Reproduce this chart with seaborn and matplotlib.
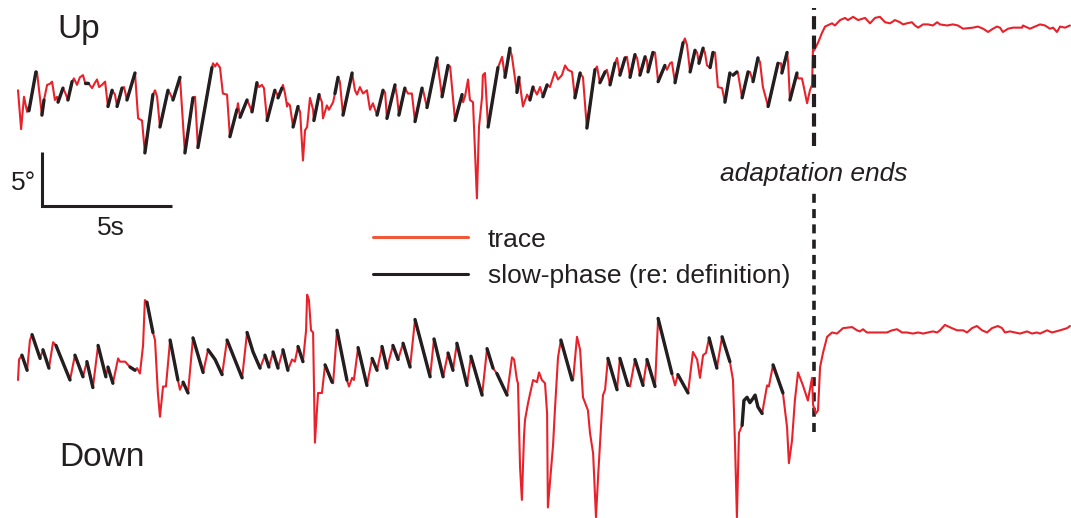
import numpy as np
import pandas as pd
import matplotlib
matplotlib.use("Agg")
import matplotlib.pyplot as plt
import seaborn as sns

# --- data: eye position traces (deg) vs time (s) ---
up_t = [0.00, 0.12, 0.23, 0.35, 0.38, 0.42, 0.69, 0.73, 0.92, 1.00,
        1.12, 1.23, 1.31, 1.42, 1.50, 1.54, 1.73, 1.81, 1.92, 2.08,
        2.15, 2.27, 2.38, 2.50, 2.58, 2.69, 2.85, 2.96, 3.04, 3.12,
        3.23, 3.35, 3.46, 3.62, 3.73, 3.81, 4.00, 4.08, 4.19, 4.50,
        4.62, 4.77, 4.88, 5.19, 5.27, 5.35, 5.46, 5.77, 5.85, 5.96,
        6.23, 6.42, 6.73, 6.81, 6.92, 7.46, 7.50, 7.58, 7.65, 7.77,
        7.88, 8.04, 8.15, 8.42, 8.46, 8.54, 8.81, 8.85, 9.00, 9.19,
        9.27, 9.38, 9.46, 9.58, 9.88, 9.96, 10.00, 10.15, 10.19, 10.27,
        10.35, 10.38, 10.46, 10.58, 10.77, 10.85, 10.96, 11.04, 11.12, 11.23,
        11.35, 11.38, 11.58, 11.69, 11.73, 11.88, 11.96, 12.12, 12.19, 12.31,
        12.38, 12.50, 12.85, 12.96, 13.04, 13.15, 13.27, 13.42, 13.54, 13.65,
        13.81, 14.04, 14.12, 14.19, 14.50, 14.58, 14.65, 14.88, 15.00, 15.15,
        15.27, 15.54, 15.58, 15.73, 16.12, 16.15, 16.31, 16.54, 16.62, 16.81,
        17.08, 17.12, 17.19, 17.31, 17.38, 17.50, 17.65, 17.73, 17.85, 17.88,
        17.96, 18.08, 18.46, 18.62, 18.73, 18.92, 19.00, 19.19, 19.27, 19.42,
        19.58, 19.69, 19.81, 19.96, 20.08, 20.19, 20.35, 20.46, 20.65, 20.77,
        20.92, 21.04, 21.15, 21.31, 21.42, 21.62, 21.73, 21.88, 22.19, 22.27,
        22.38, 22.58, 22.65, 22.77, 22.96, 23.04, 23.15, 23.35, 23.42, 23.54,
        23.73, 23.81, 23.92, 24.12, 24.19, 24.23, 24.42, 24.50, 24.62, 24.88,
        24.96, 25.08, 25.15, 25.27, 25.58, 25.65, 25.73, 25.85, 26.04, 26.12,
        26.19, 26.35, 26.42, 26.50, 26.62, 26.73, 26.81, 26.92, 27.08, 27.19,
        27.38, 27.50, 27.65, 27.69, 27.85, 28.08, 28.15, 28.27, 28.46, 28.54,
        28.65, 28.85, 29.23, 29.35, 29.38, 29.58, 29.62, 29.69, 29.96, 30.00,
        30.15, 30.19, 30.35, 30.46, 30.54, 30.58, 30.62, 30.77, 30.92, 31.04,
        31.31, 31.42, 31.62, 31.81, 31.92, 32.12, 32.31, 32.58, 32.77, 32.96,
        33.15, 33.35, 33.54, 33.73, 33.92, 34.04, 34.19, 34.38, 34.50, 34.62,
        34.81, 35.00, 35.19, 35.35, 35.46, 35.73, 35.96, 36.15, 36.35, 36.73,
        36.92, 37.12, 37.31, 37.50, 37.65, 37.77, 37.88, 38.08, 38.27, 38.62,
        38.65, 38.92, 39.12, 39.31, 39.50, 39.69, 39.81, 39.96, 40.08, 40.27,
        40.46]
up_deg = [0.9, -2.7, 0.3, -1.1, -0.7, -1.0, 2.6, 2.6, -1.4, 0.0,
          1.4, 1.5, 1.7, 0.0, 0.3, -0.2, 1.1, 0.7, 0.0, 1.7,
          2.0, 1.4, 2.1, 2.3, 1.6, 1.6, 1.1, 1.6, 1.9, 1.2,
          1.4, 1.7, -0.6, 0.9, 0.5, -0.6, 1.1, 1.2, 0.0, 2.5,
          -1.7, -1.9, -4.9, 0.5, 0.9, 0.3, -2.5, 0.9, 0.6, 0.0,
          2.1, -4.9, 0.2, 0.3, -4.4, 3.0, 3.4, 3.1, 3.4, 3.0,
          0.6, 0.5, -3.4, -0.9, -0.3, -1.6, 0.0, -0.2, -1.1, 1.6,
          1.2, 1.4, 1.1, -1.9, 0.9, 0.6, 0.2, 1.1, 1.4, 0.6,
          -0.6, -0.3, -0.5, -2.5, -0.6, -1.1, -5.6, -2.8, -2.5, 0.2,
          -0.9, -1.9, 0.5, -0.2, -1.7, -0.5, -0.9, -0.2, 0.6, 2.1,
          1.7, -1.4, 2.5, 0.9, 0.5, 1.2, 0.6, 0.9, -0.9, -0.3,
          -1.4, 0.9, 0.7, -1.7, 1.4, 0.3, -1.4, 1.1, 0.6, 0.6,
          -2.0, 1.1, 0.9, -0.7, 3.9, 3.2, 0.3, 3.2, 3.1, -1.9,
          0.5, -0.2, 0.3, 1.9, 0.0, -0.2, -9.1, -2.5, 0.3, 2.3,
          2.5, -2.5, 3.0, 4.0, 2.1, 4.8, 4.0, 0.7, 2.1, -0.6,
          0.5, 0.0, 1.2, 0.5, 1.2, 0.3, 1.4, 1.2, 2.6, 1.9,
          2.3, 3.2, 2.8, 2.6, 0.2, 2.5, 2.1, -2.6, 2.8, 3.1,
          1.6, 2.6, 2.8, 1.4, 3.4, 3.9, 2.3, 3.9, 4.0, 2.1,
          4.2, 3.9, 2.3, 4.0, 3.7, 2.6, 4.4, 4.4, 1.7, 3.2,
          2.8, 3.4, 3.5, 1.6, 5.3, 5.7, 5.1, 2.6, 4.6, 4.4,
          3.4, 4.8, 4.4, 3.2, 3.0, 4.4, 4.4, 1.2, 1.1, -0.2,
          2.5, 2.3, 2.6, 2.5, 0.2, 2.6, 2.6, 1.7, 3.9, 3.5,
          1.2, -0.6, 3.4, 3.4, 2.5, 4.4, 3.5, 0.0, 2.5, 2.0,
          2.0, 1.6, -0.3, 0.9, 1.4, 5.1, 4.6, 5.3, 6.2, 6.8,
          7.1, 6.9, 7.4, 7.6, 7.4, 7.7, 7.4, 7.6, 7.1, 7.6,
          7.7, 7.2, 7.1, 7.4, 7.2, 7.0, 7.1, 7.2, 6.9, 6.7,
          7.0, 7.0, 6.9, 7.2, 7.0, 6.9, 7.0, 6.9, 6.6, 6.7,
          6.8, 6.6, 6.3, 6.6, 6.8, 6.7, 6.3, 6.6, 6.7, 6.7,
          6.9, 6.6, 6.8, 7.0, 6.9, 6.6, 6.7, 6.3, 6.8, 6.7,
          6.9]
# slow-phase intervals (s) for the Up trace
up_slow = [(0.42, 0.69), (0.92, 1.00), (1.54, 1.73), (1.92, 2.08), (2.58, 2.69),
           (3.46, 3.62), (3.81, 4.00), (4.19, 4.50), (4.88, 5.19), (5.46, 5.77),
           (5.96, 6.23), (6.42, 6.73), (6.92, 7.46), (8.15, 8.42), (8.54, 8.81),
           (9.00, 9.19), (9.58, 9.88), (10.00, 10.15), (10.58, 10.77), (11.38, 11.58),
           (12.19, 12.31), (12.50, 12.85), (13.81, 14.04), (14.19, 14.50), (14.65, 14.88),
           (15.27, 15.54), (15.73, 16.12), (16.31, 16.54), (16.81, 17.08), (18.08, 18.46),
           (18.73, 18.92), (19.19, 19.27), (19.69, 19.81), (20.19, 20.35), (21.42, 21.62),
           (21.88, 22.19), (22.38, 22.58), (22.77, 22.96), (23.15, 23.35), (23.54, 23.73),
           (23.92, 24.12), (24.23, 24.42), (24.62, 24.88), (25.27, 25.58), (25.85, 26.04),
           (26.19, 26.35), (26.62, 26.73), (27.19, 27.38), (27.50, 27.65), (27.85, 28.08),
           (28.27, 28.46), (28.85, 29.23), (29.38, 29.58), (29.69, 29.96)]

down_t = [0.00, 0.04, 0.15, 0.35, 0.46, 0.54, 0.85, 0.96, 1.19, 1.35,
          1.46, 2.00, 2.19, 2.50, 2.65, 2.88, 3.08, 3.38, 3.46, 3.65,
          3.85, 3.92, 4.12, 4.31, 4.50, 4.58, 4.69, 4.81, 4.88, 4.96,
          5.19, 5.27, 5.38, 5.46, 5.58, 5.69, 5.85, 6.15, 6.23, 6.35,
          6.54, 6.73, 7.12, 7.31, 7.58, 7.85, 8.04, 8.62, 8.81, 9.04,
          9.31, 9.50, 9.65, 9.81, 10.00, 10.19, 10.38, 10.54, 10.65, 10.77,
          10.96, 11.08, 11.12, 11.19, 11.27, 11.35, 11.42, 11.54, 11.69, 11.81,
          12.08, 12.12, 12.27, 12.65, 12.73, 12.85, 12.92, 13.08, 13.42, 13.62,
          13.81, 14.00, 14.19, 14.42, 14.62, 14.81, 15.08, 15.27, 15.85, 16.00,
          16.35, 16.54, 16.73, 16.88, 17.27, 17.42, 17.85, 18.04, 18.27, 18.42,
          18.81, 19.00, 19.08, 19.19, 19.23, 19.31, 19.38, 19.46, 19.50, 19.62,
          19.81, 19.96, 20.04, 20.15, 20.27, 20.35, 20.38, 20.54, 20.58, 20.65,
          20.77, 20.88, 21.31, 21.35, 21.50, 21.62, 21.73, 21.92, 22.00, 22.12,
          22.23, 22.31, 22.46, 22.50, 22.58, 22.69, 23.04, 23.15, 23.46, 23.54,
          23.73, 24.04, 24.19, 24.50, 24.62, 25.15, 25.27, 25.38, 25.77, 25.96,
          26.12, 26.23, 26.35, 26.46, 26.58, 26.88, 27.08, 27.38, 27.50, 27.58,
          27.65, 27.73, 27.85, 27.92, 28.04, 28.15, 28.27, 28.35, 28.46, 28.62,
          28.81, 28.88, 29.04, 29.42, 29.58, 29.65, 29.77, 29.88, 30.00, 30.19,
          30.38, 30.54, 30.58, 30.69, 30.77, 30.85, 30.96, 31.12, 31.31, 31.50,
          31.73, 32.08, 32.27, 32.38, 32.50, 32.65, 32.88, 33.15, 33.42, 33.62,
          33.81, 34.00, 34.19, 34.42, 34.62, 34.81, 35.00, 35.19, 35.35, 35.46,
          35.65, 35.92, 36.12, 36.35, 36.50, 36.69, 36.88, 37.08, 37.27, 37.46,
          37.69, 37.85, 37.96, 38.15, 38.35, 38.54, 38.81, 39.00, 39.19, 39.31,
          39.58, 39.77, 40.08, 40.35, 40.46]
down_deg = [0.0, 1.9, 2.3, 0.9, 3.7, 4.2, 2.0, 2.8, 1.1, 3.5,
            3.2, 0.0, 2.3, 0.3, 1.7, -0.7, 3.2, 0.3, 1.2, -0.3,
            2.0, 1.7, 1.7, 1.2, 0.9, 1.1, 0.6, 3.2, 7.4, 7.2,
            4.4, 3.7, -1.2, -3.4, -0.6, -0.6, 3.7, 0.0, -0.9, -0.2,
            -1.2, 3.9, 0.7, 2.8, 1.9, 0.5, 3.7, 0.2, 4.4, 2.6,
            1.1, 2.3, 1.2, 2.6, 1.1, 2.8, 0.9, 1.9, 1.7, 3.1,
            1.7, 4.6, 7.9, 7.4, 4.6, 4.4, -5.8, -1.2, -1.2, 1.4,
            -0.2, -0.3, 4.6, 0.0, -0.6, 0.2, 0.0, 3.0, -0.5, 2.0,
            0.9, 3.1, 1.1, 3.2, 1.9, 3.4, 1.2, 5.6, 0.3, 3.8,
            0.3, 2.5, 0.9, 3.4, -0.5, 2.2, -1.4, 2.9, 1.1, 0.6,
            -1.4, 2.1, 1.9, 0.0, -0.3, -8.1, -11.1, -5.3, -3.7, -2.1,
            0.0, -0.2, 0.7, 0.0, -0.3, -3.1, -11.8, -7.1, -6.0, -2.8,
            2.1, 3.7, 0.0, 0.0, 4.0, 2.8, -1.6, -2.8, -4.9, -6.8,
            -12.7, -9.0, -2.8, -1.4, -0.9, 2.0, -0.9, 2.0, -0.5, -0.6,
            1.9, -0.5, 1.9, -0.6, 5.7, 0.6, -0.5, 0.5, -1.2, 2.6,
            1.9, 0.2, 2.3, 2.5, 3.9, 1.1, 4.0, 1.7, 0.0, -6.2,
            -12.7, -4.9, -4.2, -1.9, -1.6, -2.1, -1.7, -1.4, -2.5, -3.1,
            -0.5, -0.6, 1.4, -1.2, -4.4, -7.7, -5.6, -1.9, 0.7, -0.5,
            -1.9, 0.2, -2.3, -3.1, -2.8, 1.2, 2.5, 4.0, 4.4, 4.3,
            4.8, 4.9, 4.6, 4.5, 4.7, 4.4, 4.4, 4.4, 4.4, 4.6,
            4.7, 4.4, 4.4, 4.3, 4.4, 4.3, 4.4, 4.5, 4.4, 4.6,
            5.1, 4.8, 4.6, 4.6, 4.4, 4.8, 5.0, 4.6, 4.4, 4.8,
            5.0, 4.8, 4.4, 4.5, 4.4, 4.3, 4.5, 4.3, 4.4, 4.3,
            4.6, 4.4, 4.6, 4.8, 5.0]
# slow-phase intervals (s) for the Down trace
down_slow = [(0.15, 0.35), (0.54, 0.85), (0.96, 1.19), (1.46, 2.00), (2.19, 2.50),
             (2.65, 2.88), (3.08, 3.38), (3.46, 3.65), (4.31, 4.50), (4.96, 5.19),
             (5.85, 6.15), (6.35, 6.54), (6.73, 7.12), (7.31, 7.85), (8.04, 8.62),
             (8.81, 9.31), (9.50, 9.65), (9.81, 10.00), (10.19, 10.38), (10.77, 10.96),
             (11.81, 12.08), (12.27, 12.65), (13.08, 13.42), (13.62, 13.81), (14.00, 14.19),
             (14.42, 14.62), (14.81, 15.08), (15.27, 15.85), (16.00, 16.35), (16.54, 16.73),
             (16.88, 17.27), (17.42, 17.85), (18.04, 18.27), (18.42, 18.81), (20.88, 21.31),
             (22.69, 23.04), (23.15, 23.46), (23.73, 24.04), (24.19, 24.50), (24.62, 25.15),
             (25.38, 25.77), (26.58, 26.88), (27.08, 27.38), (27.85, 28.62), (29.04, 29.42)]

adapt_end = 30.6  # s
scale_len_s = 5
scale_len_deg = 5

# --- styling / layout ---
RED = "#e8222b"
LEG_RED = "#f0583a"
BLACK = "#231f20"
W, H = 1071, 518
PX_PER_S, PX_PER_DEG = 26.0, 10.8   # from the scale bar
X0 = 18                               # pixel column of t = 0

sns.set_theme(style="white")
plt.rcParams["font.family"] = ["Liberation Sans", "DejaVu Sans"]
plt.rcParams["lines.scale_dashes"] = False

fig = plt.figure(figsize=(W / 100, H / 100), dpi=100)


def fx(px):
    return px / W


def fy(py):
    return 1 - py / H


def finish_axes(ax, base_py):
    ax.set_xlim(-X0 / PX_PER_S, (W - X0) / PX_PER_S)
    ax.set_ylim(-(H - base_py) / PX_PER_DEG, base_py / PX_PER_DEG)
    ax.axis("off")


def draw_trace(ax, t, deg, slow):
    df = pd.DataFrame({"t": t, "deg": deg})
    parts = []
    for i, (a, b) in enumerate(slow):
        seg = df[(df.t >= a - 1e-6) & (df.t <= b + 1e-6)].copy()
        seg["seg"] = i
        parts.append(seg)
    slow_df = pd.concat(parts)
    sns.lineplot(data=df, x="t", y="deg", sort=False, estimator=None,
                 color=RED, lw=1.5, solid_joinstyle="round", ax=ax)
    sns.lineplot(data=slow_df, x="t", y="deg", units="seg", sort=False,
                 estimator=None, color=BLACK, lw=2.4, solid_joinstyle="round",
                 solid_capstyle="round", ax=ax)


UP_BASE, DOWN_BASE = 100, 380   # pixel rows of 0 deg for each trace

ax_up = fig.add_axes([0, 0, 1, 1])
ax_up.patch.set_alpha(0)
draw_trace(ax_up, up_t, up_deg, up_slow)

# scale bar, in data units of the Up trace
sb_t = (42 - X0) / PX_PER_S
sb_y = (UP_BASE - 206) / PX_PER_DEG
ax_up.plot([sb_t, sb_t, sb_t + scale_len_s],
           [sb_y + scale_len_deg, sb_y, sb_y], color=BLACK, lw=2.2,
           solid_capstyle="butt", solid_joinstyle="miter")

# adaptation end marker
ax_up.axvline(adapt_end, ymin=fy(146), ymax=fy(8), color=BLACK, lw=3.0,
              dashes=(9.5, 4.5))
ax_up.axvline(adapt_end, ymin=fy(432), ymax=fy(193), color=BLACK, lw=2.6,
              dashes=(6.5, 4.5))
finish_axes(ax_up, UP_BASE)

ax_dn = fig.add_axes([0, 0, 1, 1])
ax_dn.patch.set_alpha(0)
draw_trace(ax_dn, down_t, down_deg, down_slow)
finish_axes(ax_dn, DOWN_BASE)

# legend drawn by hand
fig.add_artist(plt.Line2D([fx(373), fx(468)], [fy(237), fy(237)], color=LEG_RED, lw=2.2))
fig.add_artist(plt.Line2D([fx(373), fx(468)], [fy(274), fy(274)], color=BLACK, lw=2.2))
fig.text(fx(488), fy(247), "trace", fontsize=19, color=BLACK, va="baseline")
fig.text(fx(488), fy(283), "slow-phase (re: definition)", fontsize=19,
         color=BLACK, va="baseline")

fig.text(fx(720), fy(181), "adaptation ends", fontsize=19, style="italic",
         color=BLACK, va="baseline")
fig.text(fx(57), fy(38), "Up", fontsize=24, color=BLACK, va="baseline")
fig.text(fx(59), fy(466), "Down", fontsize=24, color=BLACK, va="baseline")
fig.text(fx(11), fy(190), "5°", fontsize=19, color=BLACK, va="baseline")
fig.text(fx(97), fy(235), "5s", fontsize=19, color=BLACK, va="baseline")

fig.savefig("out.png", dpi=100, facecolor="white")
